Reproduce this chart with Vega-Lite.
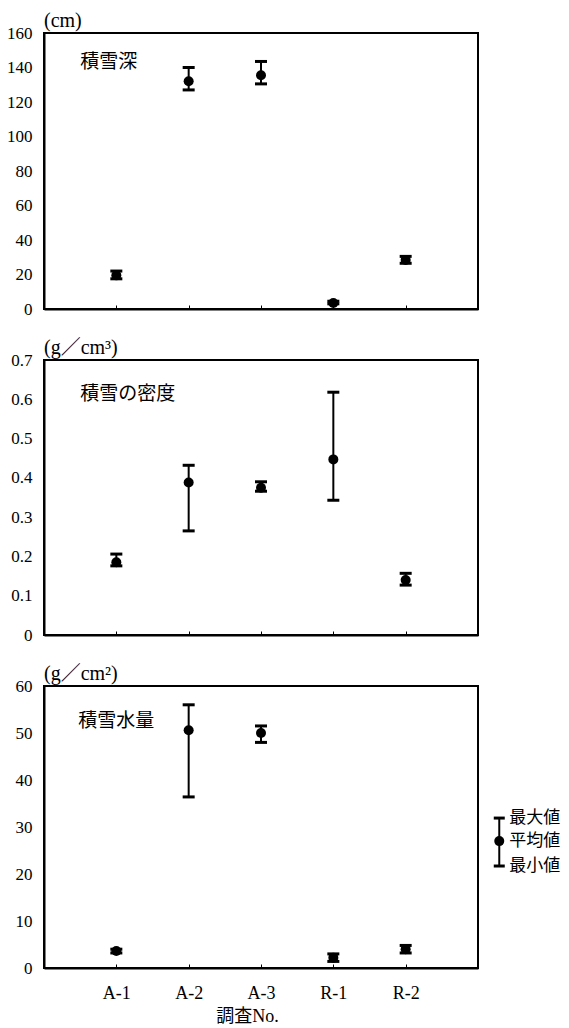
{
  "$schema": "https://vega.github.io/schema/vega-lite/v6.json",
  "background": "white",
  "padding": {"left": 5, "top": 10, "right": 0, "bottom": 2},
  "autosize": {"type": "pad"},
  "config": {
    "view": {"stroke": "black", "strokeWidth": 2},
    "axis": {
      "domainColor": "black", "domainWidth": 2, "grid": false,
      "labelFont": "Liberation Serif", "labelFontSize": 17, "labelColor": "black", "labelOverlap": false,
      "titleFont": "Liberation Serif, Noto Sans CJK JP", "titleFontSize": 18, "titleColor": "black", "titleFontWeight": "normal",
      "tickColor": "black"
    },
    "title": {"font": "Liberation Serif, Noto Sans CJK JP", "fontSize": 20, "fontWeight": "normal", "anchor": "start", "frame": "group", "offset": -7, "color": "black"}
  },
  "datasets": {
    "depth": [
      {"site": "A-1", "mean": 19.5, "min": 17.5, "max": 22},
      {"site": "A-2", "mean": 132, "min": 127, "max": 140},
      {"site": "A-3", "mean": 135.5, "min": 130.5, "max": 143.5},
      {"site": "R-1", "mean": 3.5, "min": 3, "max": 4.5},
      {"site": "R-2", "mean": 28.4, "min": 26.5, "max": 30.5}
    ],
    "density": [
      {"site": "A-1", "mean": 0.185, "min": 0.176, "max": 0.206},
      {"site": "A-2", "mean": 0.388, "min": 0.265, "max": 0.432},
      {"site": "A-3", "mean": 0.375, "min": 0.366, "max": 0.39},
      {"site": "R-1", "mean": 0.447, "min": 0.343, "max": 0.618},
      {"site": "R-2", "mean": 0.14, "min": 0.127, "max": 0.157}
    ],
    "swe": [
      {"site": "A-1", "mean": 3.6, "min": 3.2, "max": 4.0},
      {"site": "A-2", "mean": 50.6, "min": 36.4, "max": 56},
      {"site": "A-3", "mean": 50, "min": 48, "max": 51.5},
      {"site": "R-1", "mean": 2.2, "min": 1.4, "max": 3.0},
      {"site": "R-2", "mean": 4.0, "min": 3.2, "max": 4.8}
    ]
  },
  "bounds": "flush",
  "spacing": 51,
  "vconcat": [
    {
      "width": 434, "height": 276,
      "title": {"text": "(cm)"},
      "data": {"name": "depth"},
      "encoding": {
        "x": {"field": "site", "type": "nominal",
              "scale": {"type": "point", "padding": 1, "domain": ["A-1", "A-2", "A-3", "R-1", "R-2"]},
              "axis": {"labels": false, "title": null, "ticks": true, "tickSize": -4, "tickWidth": 1}}
      },
      "layer": [
        {"mark": {"type": "rule", "color": "black", "strokeWidth": 2},
         "encoding": {
           "y": {"field": "min", "type": "quantitative", "title": null,
                 "scale": {"domain": [0, 160], "nice": false},
                 "axis": {"values": [0, 20, 40, 60, 80, 100, 120, 140, 160], "tickCount": 50, "labelOverlap": false, "ticks": false, "labelPadding": 12}},
           "y2": {"field": "max"}}},
        {"mark": {"type": "tick", "color": "black", "thickness": 3, "size": 12, "opacity": 1},
         "encoding": {"y": {"field": "max", "type": "quantitative", "title": null}}},
        {"mark": {"type": "tick", "color": "black", "thickness": 3, "size": 12, "opacity": 1},
         "encoding": {"y": {"field": "min", "type": "quantitative", "title": null}}},
        {"mark": {"type": "point", "filled": true, "color": "black", "opacity": 1, "size": 100},
         "encoding": {"y": {"field": "mean", "type": "quantitative", "title": null}}},
        {"data": {"values": [{"label": "積雪深"}]},
         "mark": {"type": "text", "align": "left", "baseline": "middle", "font": "Noto Sans CJK JP", "fontSize": 19, "dx": -36, "color": "black"},
         "encoding": {"x": {"datum": "A-1", "type": "nominal"}, "y": {"datum": 143, "type": "quantitative"}, "text": {"field": "label"}}}
      ]
    },
    {
      "width": 434, "height": 275,
      "title": {"text": "(g／cm³)"},
      "data": {"name": "density"},
      "encoding": {
        "x": {"field": "site", "type": "nominal",
              "scale": {"type": "point", "padding": 1, "domain": ["A-1", "A-2", "A-3", "R-1", "R-2"]},
              "axis": {"labels": false, "title": null, "ticks": true, "tickSize": -4, "tickWidth": 1}}
      },
      "layer": [
        {"mark": {"type": "rule", "color": "black", "strokeWidth": 2},
         "encoding": {
           "y": {"field": "min", "type": "quantitative", "title": null,
                 "scale": {"domain": [0, 0.7], "nice": false},
                 "axis": {"values": [0, 0.1, 0.2, 0.3, 0.4, 0.5, 0.6, 0.7], "tickCount": 50, "labelOverlap": false, "ticks": false, "labelPadding": 12,
                          "labelExpr": "datum.value == 0 ? '0' : format(datum.value, '.1f')"}},
           "y2": {"field": "max"}}},
        {"mark": {"type": "tick", "color": "black", "thickness": 3, "size": 12, "opacity": 1},
         "encoding": {"y": {"field": "max", "type": "quantitative", "title": null}}},
        {"mark": {"type": "tick", "color": "black", "thickness": 3, "size": 12, "opacity": 1},
         "encoding": {"y": {"field": "min", "type": "quantitative", "title": null}}},
        {"mark": {"type": "point", "filled": true, "color": "black", "opacity": 1, "size": 100},
         "encoding": {"y": {"field": "mean", "type": "quantitative", "title": null}}},
        {"data": {"values": [{"label": "積雪の密度"}]},
         "mark": {"type": "text", "align": "left", "baseline": "middle", "font": "Noto Sans CJK JP", "fontSize": 19, "dx": -36, "color": "black"},
         "encoding": {"x": {"datum": "A-1", "type": "nominal"}, "y": {"datum": 0.613, "type": "quantitative"}, "text": {"field": "label"}}}
      ]
    },
    {
      "width": 434, "height": 282,
      "title": {"text": "(g／cm²)"},
      "layer": [
        {
          "data": {"name": "swe"},
          "encoding": {
            "x": {"field": "site", "type": "nominal",
                  "scale": {"type": "point", "padding": 1, "domain": ["A-1", "A-2", "A-3", "R-1", "R-2"]},
                  "axis": {"labels": true, "labelAngle": 0, "labelPadding": 20, "labelFontSize": 18, "title": "調査No.", "titleX": 203, "titleY": 48, "titleBaseline": "middle",
                           "ticks": true, "tickSize": -4, "tickWidth": 1}}
          },
          "layer": [
            {"mark": {"type": "rule", "color": "black", "strokeWidth": 2},
             "encoding": {
               "y": {"field": "min", "type": "quantitative", "title": null,
                     "scale": {"domain": [0, 60], "nice": false},
                     "axis": {"values": [0, 10, 20, 30, 40, 50, 60], "tickCount": 50, "labelOverlap": false, "ticks": false, "labelPadding": 12}},
               "y2": {"field": "max"}}},
            {"mark": {"type": "tick", "color": "black", "thickness": 3, "size": 12, "opacity": 1},
             "encoding": {"y": {"field": "max", "type": "quantitative", "title": null}}},
            {"mark": {"type": "tick", "color": "black", "thickness": 3, "size": 12, "opacity": 1},
             "encoding": {"y": {"field": "min", "type": "quantitative", "title": null}}},
            {"mark": {"type": "point", "filled": true, "color": "black", "opacity": 1, "size": 100},
             "encoding": {"y": {"field": "mean", "type": "quantitative", "title": null}}},
            {"data": {"values": [{"label": "積雪水量"}]},
             "mark": {"type": "text", "align": "left", "baseline": "middle", "font": "Noto Sans CJK JP", "fontSize": 19, "dx": -38, "color": "black"},
             "encoding": {"x": {"datum": "A-1", "type": "nominal"}, "y": {"datum": 52.5, "type": "quantitative"}, "text": {"field": "label"}}}
          ]
        },
        {
          "data": {"values": [{"max": 31.9, "mean": 27.0, "min": 21.7}]},
          "encoding": {
            "x": {"datum": 1.049, "type": "quantitative", "scale": {"domain": [0, 1], "nice": false, "zero": false}, "axis": null}
          },
          "layer": [
            {"mark": {"type": "rule", "color": "black", "strokeWidth": 2},
             "encoding": {"y": {"field": "min", "type": "quantitative", "title": null}, "y2": {"field": "max"}}},
            {"mark": {"type": "tick", "orient": "horizontal", "color": "black", "thickness": 3, "size": 11, "opacity": 1},
             "encoding": {"y": {"field": "max", "type": "quantitative", "title": null}}},
            {"mark": {"type": "tick", "orient": "horizontal", "color": "black", "thickness": 3, "size": 11, "opacity": 1},
             "encoding": {"y": {"field": "min", "type": "quantitative", "title": null}}},
            {"mark": {"type": "point", "filled": true, "color": "black", "opacity": 1, "size": 100},
             "encoding": {"y": {"field": "mean", "type": "quantitative", "title": null}}},
            {"mark": {"type": "text", "align": "left", "baseline": "middle", "font": "Noto Sans CJK JP", "fontSize": 17, "dx": 10, "color": "black"},
             "encoding": {"y": {"field": "max", "type": "quantitative", "title": null}, "text": {"value": "最大値"}}},
            {"mark": {"type": "text", "align": "left", "baseline": "middle", "font": "Noto Sans CJK JP", "fontSize": 17, "dx": 10, "color": "black"},
             "encoding": {"y": {"field": "mean", "type": "quantitative", "title": null}, "text": {"value": "平均値"}}},
            {"mark": {"type": "text", "align": "left", "baseline": "middle", "font": "Noto Sans CJK JP", "fontSize": 17, "dx": 10, "color": "black"},
             "encoding": {"y": {"field": "min", "type": "quantitative", "title": null}, "text": {"value": "最小値"}}}
          ]
        }
      ],
      "resolve": {"scale": {"x": "independent"}}
    }
  ]
}
